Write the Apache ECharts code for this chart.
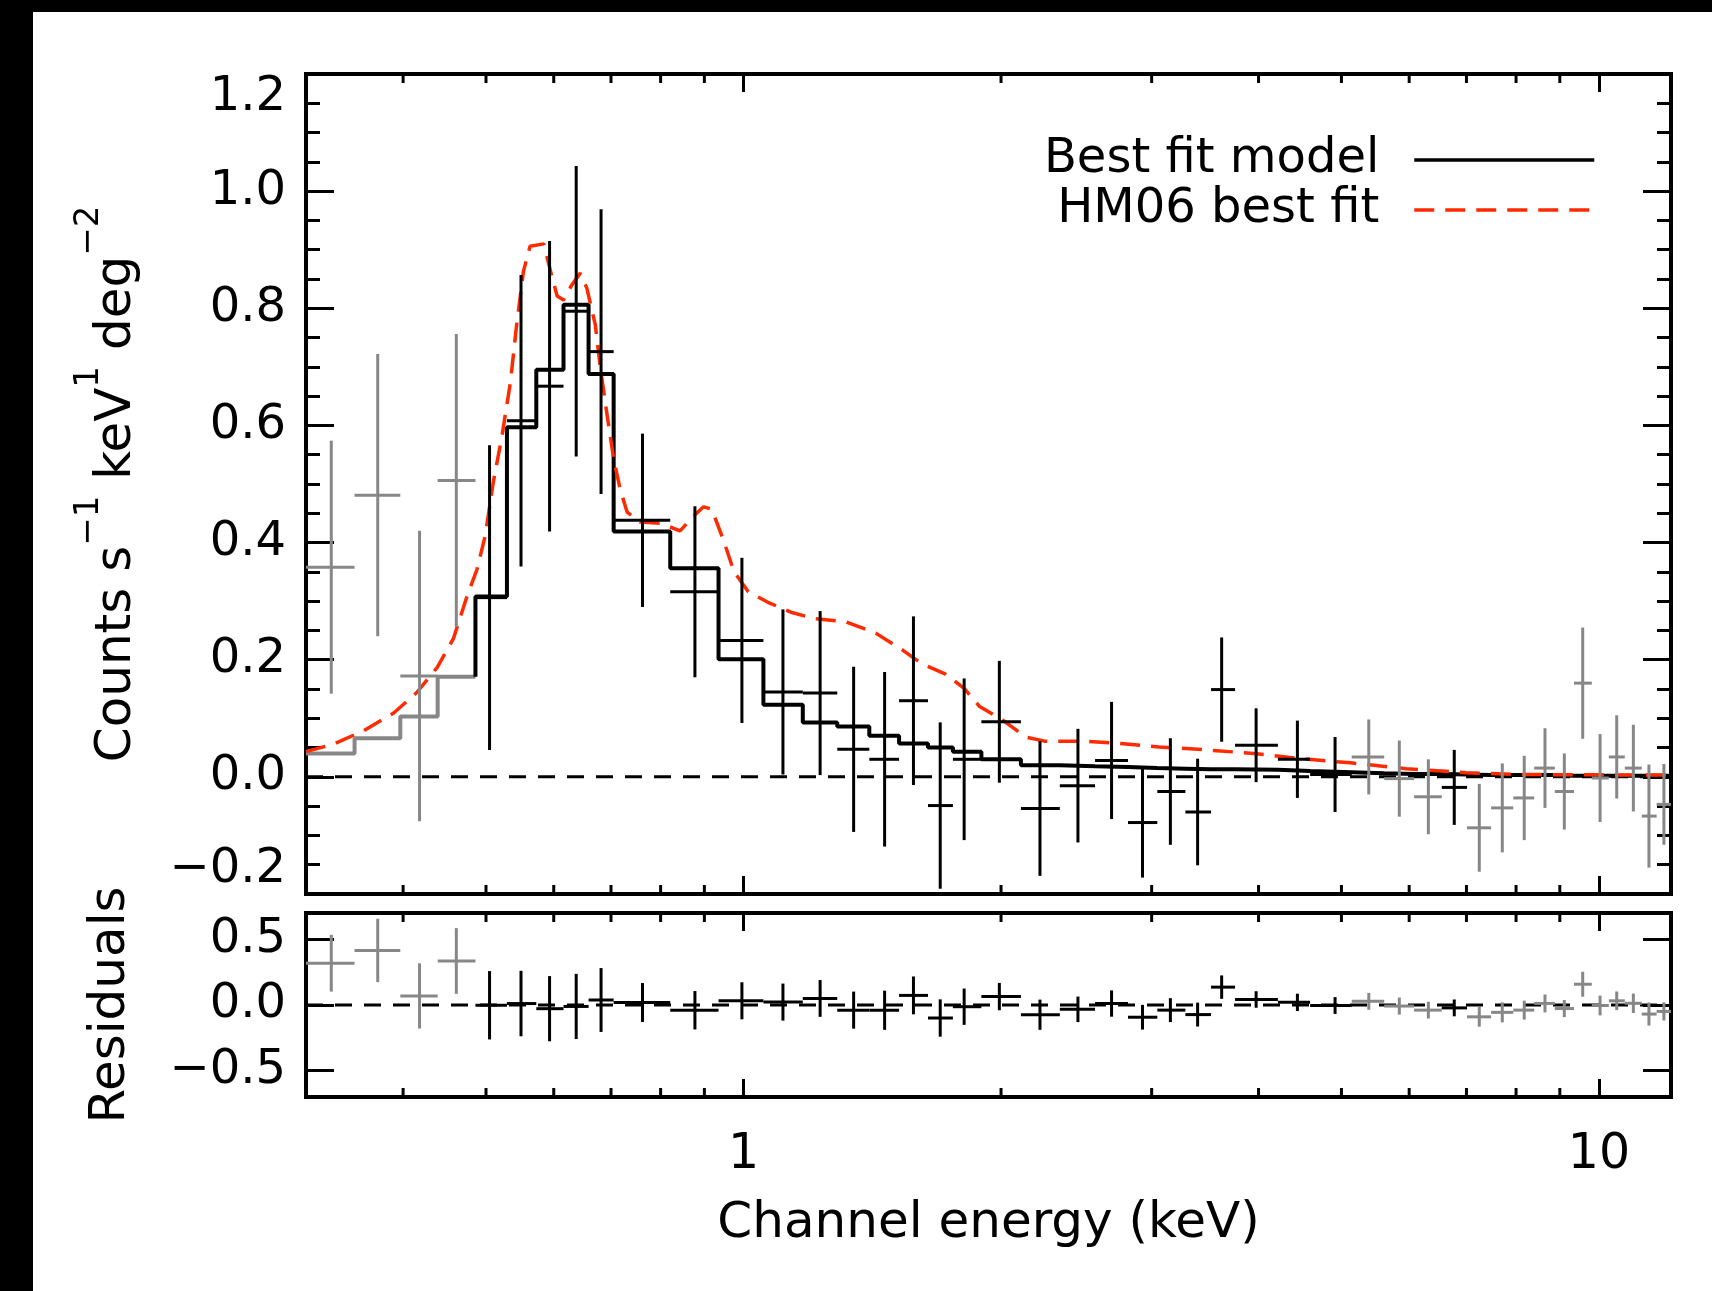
<!DOCTYPE html>
<html>
<head>
<meta charset="utf-8">
<script src="https://cdn.jsdelivr.net/npm/echarts@6/dist/echarts.min.js"></script>
<style>
html,body{margin:0;padding:0;background:#fff;}
#c{width:1712px;height:1291px;}
</style>
</head>
<body>
<div id="c"></div>
<script>
// ---------- data ----------
// channel bin edges (keV), 46 edges for 45 channels
const chanEdges = [0.308,0.351,0.397,0.439,0.486,0.529,0.5725,0.616,0.659,0.705,0.821,0.935,1.055,1.173,1.287,1.403,1.520,1.643,1.757,1.897,2.110,2.343,2.576,2.815,3.046,3.285,3.520,3.755,4.214,4.596,5.140,5.610,6.080,6.550,7.010,7.480,7.940,8.400,8.880,9.350,9.810,10.27,10.72,11.22,11.68,12.14];
// channel centre energies (keV)
const chanEnergy = [0.3297,0.3736,0.4181,0.4616,0.5048,0.5494,0.5933,0.6374,0.6815,0.7619,0.8774,0.9957,1.112,1.229,1.345,1.462,1.580,1.698,1.811,1.991,2.221,2.460,2.693,2.927,3.155,3.395,3.622,3.974,4.441,4.915,5.382,5.843,6.318,6.774,7.246,7.709,8.178,8.648,9.110,9.572,10.03,10.49,10.97,11.44,11.91];
// counts s^-1 keV^-1 deg^-2
const chanRate = [0.358,0.481,0.172,0.506,0.306,0.608,0.667,0.795,0.726,0.438,0.316,0.233,0.145,0.143,0.047,0.030,0.130,-0.049,0.030,0.094,-0.054,-0.015,0.028,-0.078,-0.025,-0.060,0.149,0.054,0.030,0.004,0.034,-0.003,-0.034,-0.018,-0.087,-0.053,-0.036,0.015,-0.025,0.160,-0.002,0.034,0.015,-0.067,-0.047];
const chanErr = [0.216,0.241,0.248,0.250,0.260,0.249,0.248,0.248,0.243,0.148,0.146,0.141,0.141,0.140,0.141,0.149,0.144,0.142,0.138,0.104,0.115,0.097,0.100,0.094,0.091,0.091,0.089,0.063,0.066,0.064,0.064,0.065,0.064,0.064,0.075,0.076,0.072,0.068,0.065,0.095,0.075,0.071,0.074,0.088,0.069];
// 1 = channel used in the fit (black), 0 = not used (grey)
const chanFitted = [0,0,0,0,1,1,1,1,1,1, 1,1,1,1,1,1,1,1,1,1, 1,1,1,1,1,1,1,1,1,1, 0,0,0,1,0,0,0,0,0,0, 0,0,0,0,0];
// best fit model, per channel
const bestFitModel = [0.040,0.066,0.103,0.171,0.308,0.597,0.695,0.806,0.688,0.419,0.356,0.201,0.123,0.093,0.086,0.070,0.057,0.050,0.043,0.030,0.020,0.018,0.017,0.015,0.014,0.013,0.013,0.012,0.010,0.008,0.006,0.005,0.005,0.004,0.003,0.003,0.003,0.003,0.002,0.002,0.002,0.002,0.002,0.002,0.002];
// residuals (data - model), per channel
const chanResid = [0.318,0.415,0.069,0.335,-0.002,0.011,-0.028,-0.011,0.038,0.019,-0.040,0.032,0.022,0.050,-0.039,-0.040,0.073,-0.099,-0.013,0.064,-0.074,-0.033,0.011,-0.093,-0.039,-0.073,0.136,0.042,0.020,-0.004,0.028,-0.008,-0.039,-0.022,-0.090,-0.056,-0.039,0.012,-0.027,0.158,-0.004,0.032,0.013,-0.069,-0.049];
// HM06 best fit curve
const hm06Energy = [0.308,0.332,0.360,0.390,0.415,0.4385,0.458,0.475,0.488,0.499,0.510,0.522,0.534,0.543,0.553,0.563,0.584,0.595,0.6055,0.616,0.630,0.6445,0.656,0.671,0.680,0.692,0.705,0.7175,0.731,0.757,0.799,0.843,0.874,0.898,0.918,0.947,0.975,1.013,1.068,1.139,1.212,1.316,1.429,1.536,1.617,1.720,1.811,1.888,2.009,2.137,2.249,2.49,2.76,3.06,3.40,3.95,4.48,5.12,5.95,6.99,8.02,12.14];
const hm06Rate = [0.043,0.056,0.079,0.109,0.144,0.187,0.236,0.308,0.354,0.412,0.504,0.582,0.674,0.772,0.863,0.906,0.910,0.863,0.821,0.814,0.840,0.860,0.834,0.772,0.700,0.622,0.543,0.491,0.452,0.435,0.433,0.420,0.445,0.461,0.457,0.405,0.350,0.316,0.298,0.2805,0.270,0.265,0.245,0.216,0.193,0.176,0.151,0.120,0.097,0.068,0.061,0.061,0.057,0.051,0.047,0.040,0.031,0.024,0.014,0.007,0.004,0.003];
// axes
const X_MIN = 0.308, X_MAX = 12.14;
const xMinorTickValues = [0.4,0.5,0.6,0.7,0.8,0.9,2,3,4,5,6,7,8,9];
const residTickValues = [-0.5, 0, 0.5];

// ---------- build ----------
const FONT = 'DejaVu Sans';
const GREY = '#878787';
const crossRows = (vals) => chanEnergy.map((e, i) => [e, vals[i], chanEdges[i], chanEdges[i + 1], chanErr[i], chanFitted[i]]);
const firstFit = chanFitted.indexOf(1);
const greyModel = [];
for (let i = 0; i < firstFit; i++) greyModel.push([chanEdges[i], bestFitModel[i]]);
greyModel.push([chanEdges[firstFit], bestFitModel[firstFit - 1]]);
const blackModel = [[chanEdges[firstFit], bestFitModel[firstFit - 1]]];
for (let i = firstFit; i < bestFitModel.length; i++) blackModel.push([chanEdges[i], bestFitModel[i]]);
blackModel.push([chanEdges[bestFitModel.length], bestFitModel[bestFitModel.length - 1]]);
const hm06 = hm06Energy.map((e, i) => [e, hm06Rate[i]]);

function renderCross(params, api) {
  const e = api.value(0), y = api.value(1), lo = api.value(2), hi = api.value(3), err = api.value(4);
  const color = api.value(5) ? '#000' : GREY;
  const a = api.coord([lo, y]), b = api.coord([hi, y]);
  const t = api.coord([e, y + err]), u = api.coord([e, y - err]);
  return { type: 'group', children: [
    { type: 'line', shape: { x1: a[0], y1: a[1], x2: b[0], y2: b[1] }, style: { stroke: color, lineWidth: 3 } },
    { type: 'line', shape: { x1: t[0], y1: t[1], x2: u[0], y2: u[1] }, style: { stroke: color, lineWidth: 3 } }
  ] };
}
function renderMinorTicks(params, api) {
  const cs = params.coordSys;
  const x = api.coord([api.value(0), 0])[0];
  const L = 9;
  return { type: 'group', children: [
    { type: 'line', shape: { x1: x, y1: cs.y + cs.height, x2: x, y2: cs.y + cs.height - L }, style: { stroke: '#000', lineWidth: 3 } },
    { type: 'line', shape: { x1: x, y1: cs.y, x2: x, y2: cs.y + L }, style: { stroke: '#000', lineWidth: 3 } }
  ] };
}
const fmt = (v) => (v < -1e-9 ? '\u2212' : '') + Math.abs(v).toFixed(1);

function xAxisDef(grid, pos, withLabels) {
  const ax = {
    gridIndex: grid, type: 'log', logBase: 10, min: X_MIN, max: X_MAX, position: pos,
    axisLine: { show: false, onZero: false },
    axisTick: { show: true, inside: true, length: 18, lineStyle: { color: '#000', width: 3 } },
    minorTick: { show: false }, splitLine: { show: false }, minorSplitLine: { show: false },
    axisLabel: { show: false }
  };
  if (withLabels) {
    ax.axisLabel = { show: true, showMinLabel: false, showMaxLabel: false, fontSize: 49, fontFamily: FONT, color: '#000', margin: 34 };
    ax.name = 'Channel energy (keV)';
    ax.nameLocation = 'middle';
    ax.nameGap = 102;
    ax.nameTextStyle = { fontSize: 50, fontFamily: FONT, color: '#000' };
  }
  return ax;
}
function yMainDef(pos, withLabels) {
  const ax = {
    gridIndex: 0, type: 'value', min: -0.2, max: 1.2, interval: 0.2, position: pos,
    axisLine: { show: false, onZero: false },
    axisTick: { show: true, inside: true, length: 28, lineStyle: { color: '#000', width: 3 } },
    minorTick: { show: true, splitNumber: 4, length: 14, lineStyle: { color: '#000', width: 3 } },
    splitLine: { show: false }, minorSplitLine: { show: false },
    axisLabel: { show: false }
  };
  if (withLabels) {
    ax.axisLabel = { show: true, fontSize: 48, fontFamily: FONT, color: '#000', margin: 20, formatter: fmt,
      verticalAlignMinLabel: 'bottom', verticalAlignMaxLabel: 'top' };
    ax.name = '{a|Counts s}{s|\u22121}{a| keV}{s|1}{a| deg}{s|\u22122}';
    ax.nameLocation = 'middle';
    ax.nameRotate = 90;
    ax.nameGap = 164;
    ax.nameTextStyle = { fontSize: 50, fontFamily: FONT, color: '#000',
      rich: {
        a: { fontSize: 50, fontFamily: FONT, color: '#000', lineHeight: 70, verticalAlign: 'bottom' },
        s: { fontSize: 34, fontFamily: FONT, color: '#000', lineHeight: 70, verticalAlign: 'top' }
      } };
  }
  return ax;
}
function yResDef(pos, withLabels) {
  const ax = {
    gridIndex: 1, type: 'value', min: -0.7, max: 0.7, position: pos,
    axisLine: { show: false, onZero: false },
    axisTick: { show: true, inside: true, length: 28, customValues: residTickValues, lineStyle: { color: '#000', width: 3 } },
    minorTick: { show: false }, splitLine: { show: false }, minorSplitLine: { show: false },
    axisLabel: { show: false }
  };
  if (withLabels) {
    ax.axisLabel = { show: true, customValues: residTickValues, fontSize: 48, fontFamily: FONT, color: '#000', margin: 20, formatter: fmt };
    ax.name = 'Residuals';
    ax.nameLocation = 'middle';
    ax.nameRotate = 90;
    ax.nameGap = 170;
    ax.nameTextStyle = { fontSize: 50, fontFamily: FONT, color: '#000' };
  }
  return ax;
}

const chart = echarts.init(document.getElementById('c'), null, { renderer: 'canvas' });
chart.setOption({
  backgroundColor: '#fff',
  animation: false,
  textStyle: { fontFamily: FONT },
  graphic: [
    { type: 'rect', left: 0, top: 0, shape: { width: 33, height: 1291 }, style: { fill: '#000' } },
    { type: 'rect', left: 0, top: 0, shape: { width: 1712, height: 12 }, style: { fill: '#000' } }
  ],
  grid: [
    { left: 306, right: 41, top: 74, height: 820, show: true, borderColor: '#000', borderWidth: 4, backgroundColor: 'transparent' },
    { left: 306, right: 41, top: 913, height: 184, show: true, borderColor: '#000', borderWidth: 4, backgroundColor: 'transparent' }
  ],
  legend: {
    orient: 'vertical', align: 'right', right: 116, top: 136, padding: 0, itemGap: 2,
    itemWidth: 180, itemHeight: 14, selectedMode: false,
    data: ['Best fit model', 'HM06 best fit'],
    itemStyle: { opacity: 0 },
    lineStyle: { width: 3.5 },
    textStyle: { fontSize: 48, fontFamily: FONT, color: '#000', lineHeight: 47, padding: [0, 30, 0, 0] }
  },
  xAxis: [xAxisDef(0, 'bottom', false), xAxisDef(0, 'top', false), xAxisDef(1, 'bottom', true), xAxisDef(1, 'top', false)],
  yAxis: [yMainDef('left', true), yMainDef('right', false), yResDef('left', true), yResDef('right', false)],
  series: [
    { type: 'line', name: 'zero0', xAxisIndex: 0, yAxisIndex: 0, data: [[X_MIN, 0], [X_MAX, 0]], symbol: 'none', silent: true,
      lineStyle: { color: '#000', width: 3, type: [17, 12] }, z: 1 },
    { type: 'line', name: 'zero1', xAxisIndex: 2, yAxisIndex: 2, data: [[X_MIN, 0], [X_MAX, 0]], symbol: 'none', silent: true,
      lineStyle: { color: '#000', width: 3, type: [17, 12] }, z: 1 },
    { type: 'line', name: 'model-excluded', xAxisIndex: 0, yAxisIndex: 0, data: greyModel, step: 'end', symbol: 'none',
      lineStyle: { color: GREY, width: 4 }, z: 3 },
    { type: 'line', name: 'Best fit model', xAxisIndex: 0, yAxisIndex: 0, data: blackModel, step: 'end', symbol: 'none',
      color: '#000', lineStyle: { color: '#000', width: 4 }, z: 3 },
    { type: 'line', name: 'HM06 best fit', xAxisIndex: 0, yAxisIndex: 0, data: hm06, symbol: 'none',
      color: '#ff2a00', lineStyle: { color: '#ff2a00', width: 3.5, type: [20, 11] }, z: 4 },
    { type: 'custom', name: 'data', xAxisIndex: 0, yAxisIndex: 0, data: crossRows(chanRate), renderItem: renderCross,
      encode: { x: 0, y: 1 }, z: 5 },
    { type: 'custom', name: 'resid', xAxisIndex: 2, yAxisIndex: 2, data: crossRows(chanResid), renderItem: renderCross,
      encode: { x: 0, y: 1 }, z: 5 },
    { type: 'custom', name: 'minor0', xAxisIndex: 0, yAxisIndex: 0, data: xMinorTickValues.map(v => [v]), renderItem: renderMinorTicks,
      encode: { x: 0 }, silent: true, z: 6 },
    { type: 'custom', name: 'minor1', xAxisIndex: 2, yAxisIndex: 2, data: xMinorTickValues.map(v => [v]), renderItem: renderMinorTicks,
      encode: { x: 0 }, silent: true, z: 6 }
  ]
});
</script>
</body>
</html>
